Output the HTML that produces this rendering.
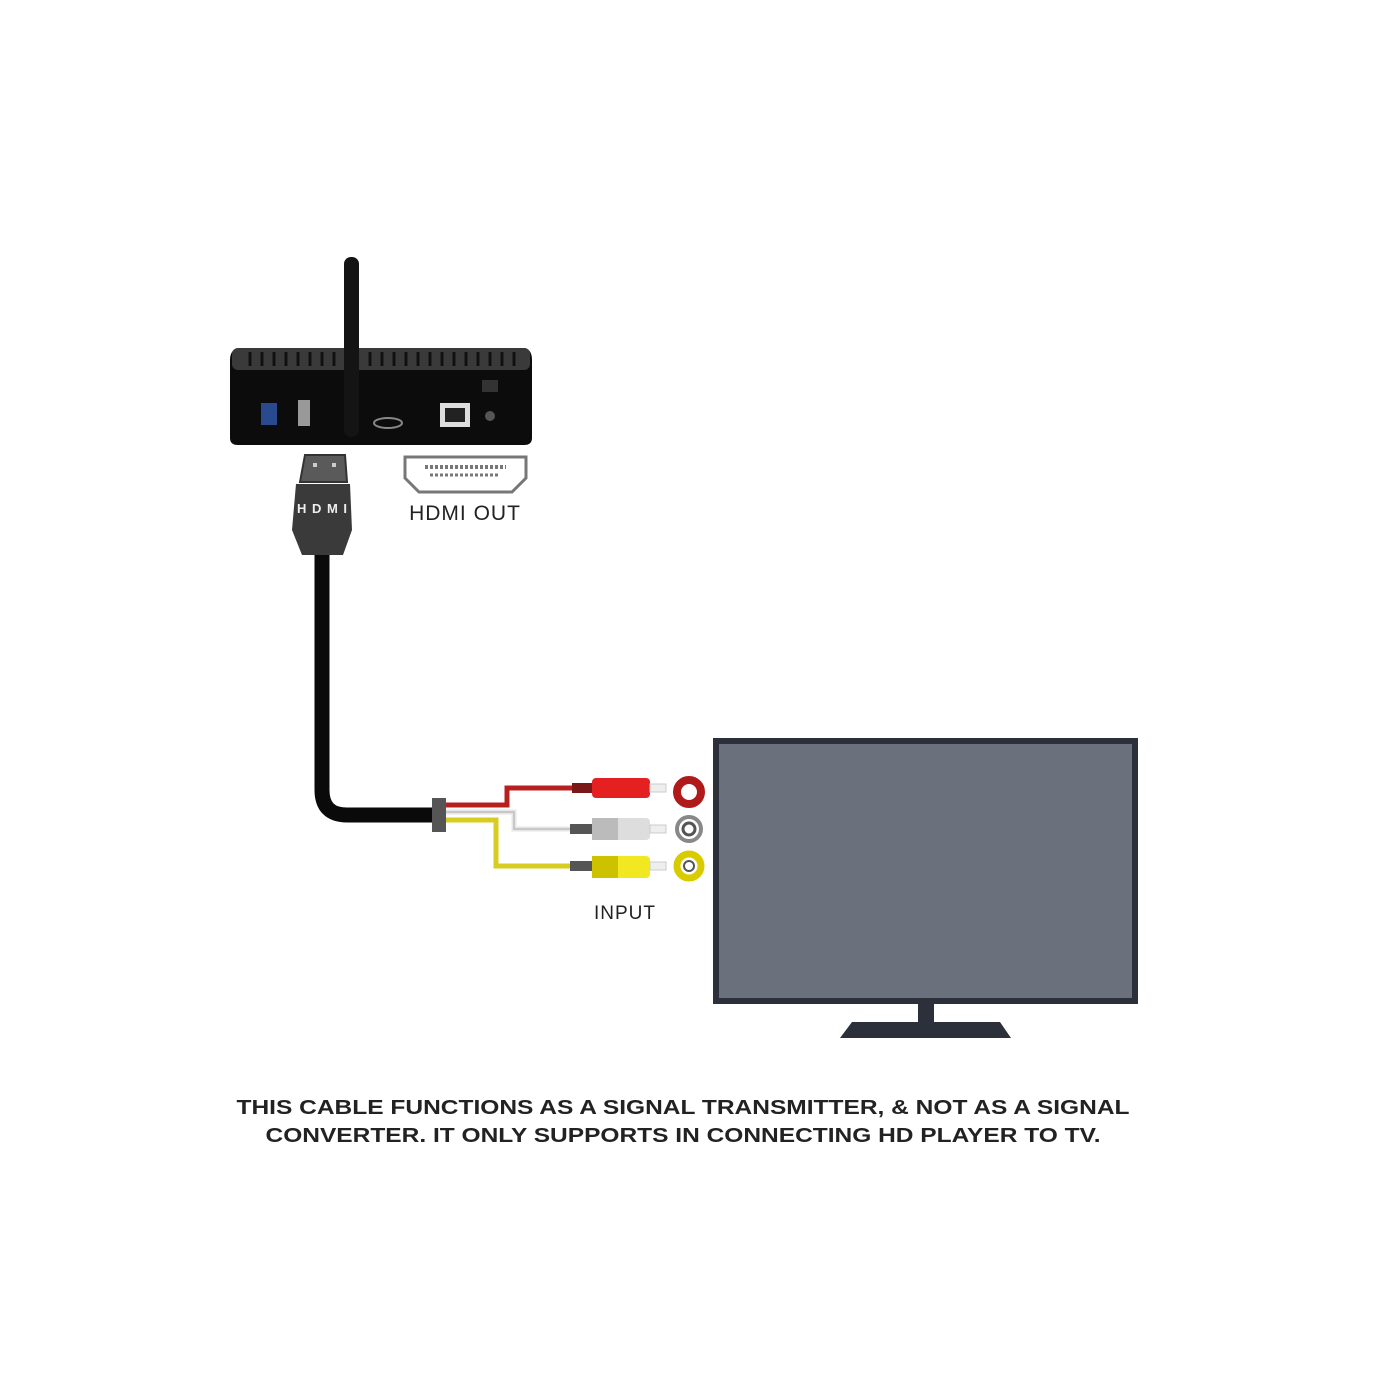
<!DOCTYPE html>
<html><head><meta charset="utf-8"><style>html,body{margin:0;padding:0;background:#fff}svg{display:block}</style></head>
<body>
<svg width="1400" height="1400" viewBox="0 0 1400 1400" xmlns="http://www.w3.org/2000/svg" font-family="Liberation Sans, sans-serif">
<rect width="1400" height="1400" fill="#fff"/>
<!-- box -->
<path d="M238 348 L525 348 Q532 350 532 360 L532 438 Q532 445 524 445 L238 445 Q230 445 230 438 L230 360 Q230 350 238 348Z" fill="#0c0c0c"/>
<rect x="232" y="348" width="298" height="22" rx="6" fill="#3a3a3a"/>
<g stroke="#111" stroke-width="3">
<path d="M250 352v14M262 352v14M274 352v14M286 352v14M298 352v14M310 352v14M322 352v14M334 352v14M370 352v14M382 352v14M394 352v14M406 352v14M418 352v14M430 352v14M442 352v14M454 352v14M466 352v14M478 352v14M490 352v14M502 352v14M514 352v14"/>
</g>
<rect x="261" y="403" width="16" height="22" fill="#2a4a90"/>
<rect x="298" y="400" width="12" height="26" fill="#999"/>
<ellipse cx="388" cy="423" rx="14" ry="5" fill="none" stroke="#888" stroke-width="2"/>
<rect x="440" y="403" width="30" height="24" fill="#ddd"/><rect x="445" y="408" width="20" height="14" fill="#222"/>
<circle cx="490" cy="416" r="5" fill="#555"/>
<rect x="482" y="380" width="16" height="12" fill="#333"/>
<!-- antenna -->
<rect x="344" y="257" width="15" height="180" rx="7" fill="#141414"/>
<!-- HDMI plug -->
<path d="M305 455 L345 455 L347 482 L300 482Z" fill="#5a5a5a" stroke="#333" stroke-width="2"/>
<rect x="313" y="463" width="4" height="4" fill="#ccc"/><rect x="332" y="463" width="4" height="4" fill="#ccc"/>
<path d="M296 484 L350 484 L352 530 L343 555 L302 555 L292 530Z" fill="#3a3a3a"/>
<text x="322" y="513" font-size="13" font-weight="bold" fill="#eee" text-anchor="middle" textLength="50">HDMI</text>
<!-- cable -->
<path d="M322 555 L322 790 Q322 815 347 815 L436 815" fill="none" stroke="#0a0a0a" stroke-width="15"/>
<!-- HDMI OUT port -->
<path d="M405 457 L526 457 L526 478 L512 492 L419 492 L405 478Z" fill="#fff" stroke="#777" stroke-width="3"/>
<path d="M425 467 H506" stroke="#777" stroke-width="4" stroke-dasharray="3 2"/>
<path d="M430 475 H500" stroke="#777" stroke-width="3" stroke-dasharray="3 2"/>
<text x="465" y="520" font-size="21" fill="#222" text-anchor="middle" letter-spacing="1">HDMI OUT</text>
<!-- wires -->
<path d="M446 805 H507 V788 H580" fill="none" stroke="#b82020" stroke-width="5"/>
<path d="M446 812 H514 V829 H575" fill="none" stroke="#e6e6e6" stroke-width="5"/>
<path d="M446 812 H514 V829 H575" fill="none" stroke="#aaa" stroke-width="1"/>
<path d="M446 820 H496 V866 H575" fill="none" stroke="#d8cc20" stroke-width="5"/>
<rect x="432" y="798" width="14" height="34" fill="#555"/>
<!-- plugs -->
<rect x="572" y="783" width="22" height="10" fill="#7a1818"/>
<rect x="592" y="778" width="58" height="20" rx="4" fill="#e52020"/>
<rect x="650" y="784" width="16" height="8" fill="#eee" stroke="#ccc"/>
<rect x="570" y="824" width="24" height="10" fill="#555"/>
<rect x="592" y="818" width="58" height="22" rx="4" fill="#ddd"/><rect x="592" y="818" width="26" height="22" fill="#bbb"/>
<rect x="650" y="825" width="16" height="8" fill="#eee" stroke="#ccc"/>
<rect x="570" y="861" width="24" height="10" fill="#555"/>
<rect x="592" y="856" width="58" height="22" rx="4" fill="#f2e822"/><rect x="592" y="856" width="26" height="22" fill="#cdc200"/>
<rect x="650" y="862" width="16" height="8" fill="#eee" stroke="#ccc"/>
<!-- jacks -->
<circle cx="689" cy="792" r="12" fill="none" stroke="#b01a1a" stroke-width="8"/>
<circle cx="689" cy="829" r="12" fill="none" stroke="#888" stroke-width="4"/><circle cx="689" cy="829" r="6" fill="none" stroke="#555" stroke-width="3"/>
<circle cx="689" cy="866" r="12" fill="none" stroke="#d8cc00" stroke-width="7"/><circle cx="689" cy="866" r="5" fill="none" stroke="#555" stroke-width="2"/>
<text x="625" y="919" font-size="19" fill="#222" text-anchor="middle" letter-spacing="1">INPUT</text>
<!-- TV -->
<rect x="716" y="741" width="419" height="260" fill="#6b717c" stroke="#2b303a" stroke-width="6"/>
<rect x="918" y="1003" width="16" height="21" fill="#2b303a"/>
<path d="M852 1022 L1000 1022 L1011 1038 L840 1038Z" fill="#2b303a"/>
<!-- caption -->
<text x="683" y="1114" font-size="20" font-weight="bold" fill="#222" text-anchor="middle" textLength="893" lengthAdjust="spacingAndGlyphs">THIS CABLE FUNCTIONS AS A SIGNAL TRANSMITTER, &amp; NOT AS A SIGNAL</text>
<text x="683" y="1142" font-size="20" font-weight="bold" fill="#222" text-anchor="middle" textLength="835" lengthAdjust="spacingAndGlyphs">CONVERTER. IT ONLY SUPPORTS IN CONNECTING HD PLAYER TO TV.</text>
</svg>
</body></html>
